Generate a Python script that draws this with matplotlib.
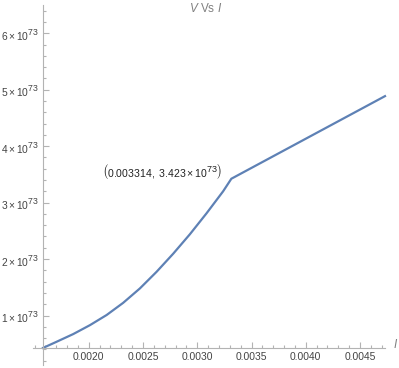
import numpy as np
import matplotlib
matplotlib.use('Agg')
import matplotlib.pyplot as plt
from matplotlib.ticker import MultipleLocator, FixedLocator
import matplotlib._mathtext as mt

# Mathematica-like superscripts are almost full size
mt.SHRINK_FACTOR = 0.85

plt.rcParams['font.family'] = ['Liberation Sans', 'DejaVu Sans']
plt.rcParams['mathtext.fontset'] = 'custom'
plt.rcParams['mathtext.rm'] = 'Liberation Sans'
plt.rcParams['mathtext.it'] = 'Liberation Sans:italic'

# current I and voltage V (V in units of 1e73)
i_vals = [0.001578, 0.001704, 0.001857, 0.002011, 0.002165, 0.002317, 0.002471,
          0.002625, 0.002778, 0.002932, 0.003085, 0.003238, 0.003314, 0.00473]
v_vals = [0.426, 0.536, 0.672, 0.830, 1.010, 1.225, 1.480,
          1.775, 2.095, 2.440, 2.810, 3.200, 3.423, 4.886]
scale = 1e73

x_ticks = [0.0020, 0.0025, 0.0030, 0.0035, 0.0040, 0.0045]
y_ticks = [1, 2, 3, 4, 5, 6]
peak_i, peak_v = 0.003314, 3.423

axis_col = '#b3b3b3'
text_col = '#444444'

fig = plt.figure(figsize=(3.99, 3.68), dpi=100)
W, H = 399, 368
ax = fig.add_axes([33 / W, 1 - 365 / H, (385 - 33) / W, (365 - 5) / H])

ax.plot(i_vals, np.array(v_vals) * scale, color='#5E81B5', lw=1.6,
        solid_joinstyle='miter', clip_on=False)

ax.set_xlim(0.001486, 0.00473)
ax.set_ylim(0.124 * scale, 6.50 * scale)

for s in ['top', 'right']:
    ax.spines[s].set_visible(False)
ax.spines['left'].set_position(('data', i_vals[0]))
ax.spines['bottom'].set_position(('data', v_vals[0] * scale))
for s in ['left', 'bottom']:
    ax.spines[s].set_color(axis_col)
    ax.spines[s].set_linewidth(0.8)

ax.xaxis.set_major_locator(FixedLocator(x_ticks))
ax.xaxis.set_minor_locator(MultipleLocator(0.0001))
ax.set_xticklabels([f'{t:.4f}' for t in x_ticks])
ax.yaxis.set_major_locator(FixedLocator([t * scale for t in y_ticks]))
ax.yaxis.set_minor_locator(MultipleLocator(0.2 * scale))
ax.set_yticklabels([rf'${t}\times10^{{73}}$' for t in y_ticks])

ax.tick_params(which='both', direction='in', color=axis_col, width=0.8,
               labelcolor=text_col, labelsize=7.4, pad=3)
ax.tick_params(which='major', length=4)
ax.tick_params(which='minor', length=2.5)

ax.annotate(r'$\left(\mathrm{0.003314,\ 3.423\times10^{73}}\right)$',
            xy=(peak_i, peak_v * scale), xytext=(-7, 5),
            textcoords='offset points', ha='right', va='center',
            fontsize=7.6, color='#222222')

fig.text(206 / W, 1 - 9 / H, r'$\it{V}$ Vs $\it{I}$', ha='center', va='center',
         fontsize=8.5, color='#808080')
fig.text(396 / W, 1 - 344 / H, r'$\it{I}$', ha='center', va='center',
         fontsize=8.5, color='#808080')

fig.savefig('out.png', dpi=100)
